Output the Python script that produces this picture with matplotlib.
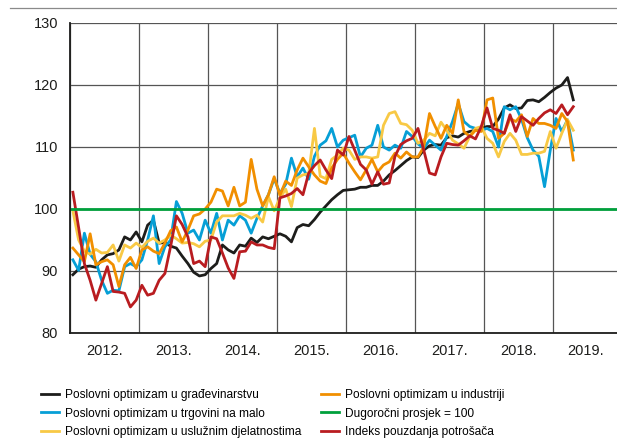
import numpy as np
import matplotlib.pyplot as plt
from matplotlib.lines import Line2D

plt.rcParams['font.family'] = ['Liberation Sans', 'DejaVu Sans']

# mjesečni podaci, siječanj 2012. - travanj 2019.
years = ['2012.', '2013.', '2014.', '2015.', '2016.', '2017.', '2018.', '2019.']

gradevinarstvo = [
    89.4, 90.3, 90.7, 90.8, 90.6, 91.8, 92.6, 92.8, 93.4, 95.5,
    95.0, 96.3, 94.7, 97.4, 98.2, 94.5, 94.6, 94.0, 93.7, 92.4,
    91.2, 89.8, 89.2, 89.4, 90.4, 91.2, 94.2, 93.4, 92.9, 94.2,
    94.0, 95.3, 94.6, 95.5, 95.2, 95.6, 96.0, 95.6, 94.7, 97.0,
    97.5, 97.3, 98.3, 99.5, 100.5, 101.5, 102.3, 103.0, 103.1, 103.2,
    103.5, 103.5, 103.8, 103.8, 104.5, 105.5, 106.2, 107.0, 107.8, 108.4,
    108.3, 109.5, 110.2, 110.4, 110.3, 111.5, 111.8, 111.6, 112.2, 112.5,
    112.7, 113.0, 113.3, 113.3, 114.5, 116.3, 116.8, 116.2, 116.3, 117.5,
    117.6, 117.3, 118.0, 118.8, 119.5, 120.0, 121.2, 117.6]

trgovina = [
    91.8, 90.1, 96.1, 92.7, 91.5, 88.5, 86.4, 86.9, 86.8, 90.7,
    91.2, 90.7, 91.8, 95.0, 98.9, 91.2, 93.9, 95.0, 101.2, 99.3,
    96.1, 96.6, 95.0, 98.2, 96.1, 99.3, 95.0, 98.2, 97.4, 98.9,
    98.2, 96.1, 98.5, 100.5, 102.3, 104.9, 102.5, 104.0, 108.2, 105.2,
    106.6, 104.8, 108.5, 110.3, 111.0, 113.0, 110.0, 111.1, 111.5, 111.9,
    108.4, 109.8, 110.3, 113.5, 110.0, 109.5, 110.3, 109.8, 112.5, 111.7,
    110.5, 109.8, 111.1, 110.3, 109.5, 111.7, 114.1, 117.0, 114.1, 113.3,
    113.0, 112.7, 113.0, 112.5, 110.0, 116.5, 116.0, 116.5, 114.5, 111.5,
    109.5, 108.5, 103.6, 109.5, 114.6, 112.5, 114.4, 109.5]

usluge = [
    99.7, 95.0, 93.2, 92.7, 93.5, 92.9, 93.0, 94.2, 91.6, 94.2,
    93.7, 94.5, 93.8, 94.8, 95.3, 94.5, 95.0, 95.8, 95.2, 94.5,
    94.6, 94.4, 93.9, 94.8, 95.0, 97.9, 98.9, 98.9, 98.9, 99.3,
    99.0, 98.5, 99.0, 97.9, 102.0, 99.7, 101.8, 103.2, 100.4, 105.0,
    105.5, 105.7, 113.0, 105.3, 104.9, 108.0, 108.7, 109.8, 109.5, 108.0,
    108.4, 108.4, 108.2, 108.4, 113.5, 115.4, 115.7, 113.8, 113.6, 112.7,
    110.6, 111.1, 112.2, 111.8, 114.0, 112.7, 111.1, 110.5, 109.8, 111.7,
    113.0, 113.3, 111.4, 110.6, 108.4, 110.9, 112.2, 111.1, 108.8, 108.8,
    109.0, 109.0, 109.3, 112.5, 109.8, 112.2, 114.4, 112.7]

industrija = [
    93.7, 92.6, 91.5, 96.0, 91.0, 91.5, 91.8, 91.0, 87.5, 91.0,
    92.2, 90.4, 93.4, 93.9, 93.2, 92.8, 94.5, 96.5, 97.1, 94.7,
    96.6, 98.9, 99.2, 100.0, 101.1, 103.2, 102.9, 100.5, 103.5, 100.5,
    101.1, 108.0, 103.2, 100.5, 102.3, 105.2, 102.2, 104.5, 103.8, 106.3,
    108.2, 106.8, 105.5, 104.5, 104.1, 106.6, 108.0, 109.0, 107.4, 106.0,
    104.7, 106.3, 108.0, 106.0, 107.1, 107.6, 109.0, 108.2, 109.2, 108.4,
    108.4, 110.0, 115.4, 113.3, 111.4, 113.5, 112.2, 117.6, 112.5, 111.7,
    112.7, 112.5, 117.6, 117.9, 111.4, 112.2, 114.6, 114.1, 115.2, 111.7,
    114.6, 113.8, 113.8, 113.5, 113.0, 115.4, 114.1, 107.9]

potrosaci = [
    102.7, 97.0, 91.2, 88.5, 85.3, 88.0, 90.7, 86.7, 86.6, 86.4,
    84.2, 85.3, 87.7, 86.1, 86.4, 88.5, 89.6, 94.0, 98.9, 97.5,
    95.5, 91.2, 91.6, 90.7, 95.5, 95.2, 92.9, 90.5, 88.8, 93.1,
    93.2, 94.7, 94.2, 94.2, 93.8, 93.6, 101.8, 102.1, 102.5, 103.3,
    102.3, 105.8, 107.0, 107.9, 106.3, 104.9, 109.5, 108.7, 111.7, 109.5,
    107.2, 106.3, 104.0, 106.0, 104.0, 104.2, 108.5, 110.4, 111.0, 111.4,
    113.0, 109.5, 105.8, 105.5, 108.4, 110.6, 110.4, 110.3, 111.0, 111.8,
    111.3, 113.3, 116.3, 113.0, 112.7, 112.2, 115.2, 112.5, 114.9, 114.2,
    113.5, 114.6, 115.5, 116.0, 115.4, 116.8, 115.2, 116.5]

prosjek = 100

fig = plt.figure(figsize=(6.17, 4.45), dpi=100)
ax = fig.add_axes([70/617, 1 - 333/445, 1 - 70/617, 310/445])

x = np.arange(len(gradevinarstvo)) + 0.5
lw = 2.0
l_blk, = ax.plot(x, gradevinarstvo, color='#1d1d1b', lw=lw, label='Poslovni optimizam u građevinarstvu')
l_blu, = ax.plot(x, trgovina, color='#069fd6', lw=lw, label='Poslovni optimizam u trgovini na malo')
l_yel, = ax.plot(x, usluge, color='#f8c945', lw=lw, label='Poslovni optimizam u uslužnim djelatnostima')
l_ora, = ax.plot(x, industrija, color='#f18f00', lw=lw, label='Poslovni optimizam u industriji')
l_red, = ax.plot(x, potrosaci, color='#b91c20', lw=lw, label='Indeks pouzdanja potrošača')
l_grn = ax.axhline(prosjek, color='#00a03c', lw=lw, label='Dugoročni prosjek = 100')

xmax = 95.1
ax.set_xlim(0, xmax)
ax.set_ylim(80, 130)
ax.set_yticks(np.arange(80, 131, 10))
ax.set_xticks(np.arange(0, 85, 12))
ax.set_xticklabels([])
centers = [12 * k + 6 for k in range(7)] + [(84 + xmax) / 2]
ax.set_xticks(centers, minor=True)
ax.set_xticklabels(years, minor=True)
ax.tick_params(which='both', length=0, labelsize=10.5, colors='#1d1d1b')
ax.tick_params(axis='x', which='minor', pad=8)
ax.tick_params(axis='y', pad=8.6)
ax.grid(True, which='major', color='#555555', lw=0.9)
ax.set_axisbelow(True)
for s in ['top', 'right']:
    ax.spines[s].set_visible(False)
for s in ['left', 'bottom']:
    ax.spines[s].set_linewidth(1.3)
    ax.spines[s].set_color('#1d1d1b')

fig.add_artist(Line2D([10/617, 1], [1 - 8/445, 1 - 8/445], color='#8a8a8a', lw=0.9))

leg_kw = dict(loc='upper left', frameon=False, fontsize=8.6, handlelength=1.5,
              handletextpad=0.55, labelspacing=0.55, borderaxespad=0, borderpad=0)
fig.legend(handles=[l_blk, l_blu, l_yel], bbox_to_anchor=(41/617, 1 - 389/445), **leg_kw)
fig.legend(handles=[l_ora, l_grn, l_red], bbox_to_anchor=(321/617, 1 - 389/445), **leg_kw)

fig.savefig('out.png', dpi=100)
